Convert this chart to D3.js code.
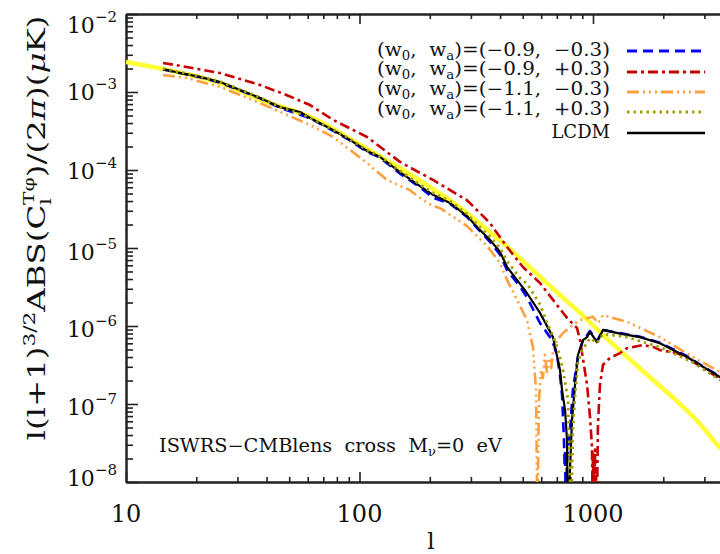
<!DOCTYPE html>
<html>
<head>
<meta charset="utf-8">
<script src="https://cdn.jsdelivr.net/npm/d3@7"></script>
<style>
body { margin: 0; background: #fff; }
svg { display: block; font-family: "DejaVu Serif", serif; }
</style>
</head>
<body>
<script>
// multipole l and |C_l| values
var yellowL = [10, 14.4, 25.3, 37.5, 61.4, 107.7, 149, 206.5, 244, 362, 487, 674, 880, 1103, 1590, 2359, 2873, 3500, 4000];
var yellowV = [2.43e-3, 1.97e-3, 1.30e-3, 8.0e-4, 4.8e-4, 1.86e-4, 1.06e-4, 5.7e-5, 4.1e-5, 1.6e-5, 7.4e-6, 3.0e-6, 1.47e-6, 7.7e-7, 2.85e-7, 1.0e-7, 5.55e-8, 2.73e-8, 1.91e-8];

var blackL = [14.4, 17, 20.7, 25.3, 30.8, 37.5, 45.6, 55.6, 61.4, 77, 91, 107.7, 122, 149, 181.5, 206.5, 244, 288.6, 328, 362, 400, 428.5, 487, 521, 593, 674, 722, 737, 759, 774, 780, 797, 813, 837, 862, 906, 943, 971, 1040, 1103, 1305, 1590, 1935, 2528, 2873, 3500, 4000];
var blackV = [1.97e-3, 1.75e-3, 1.56e-3, 1.34e-3, 1.06e-3, 8.4e-4, 6.4e-4, 5.55e-4, 4.65e-4, 3.26e-4, 2.43e-4, 1.75e-4, 1.48e-4, 9.4e-5, 6.2e-5, 4.8e-5, 3.78e-5, 2.57e-5, 1.70e-5, 1.27e-5, 8.9e-6, 5.7e-6, 3.46e-6, 2.65e-6, 1.47e-6, 7.2e-7, 2.73e-7, 1.51e-7, 8.4e-8, 3.46e-8, 3e-9, 1.43e-8, 6.2e-8, 1.75e-7, 4.25e-7, 6.6e-7, 7.2e-7, 8.4e-7, 6.2e-7, 8.9e-7, 8.0e-7, 7.2e-7, 6.0e-7, 4.0e-7, 3.16e-7, 2.22e-7, 1.75e-7];

var blueL = [14.4, 20.7, 25.3, 37.5, 45.6, 61.4, 77, 91, 107.7, 122, 149, 181.5, 206.5, 244, 288.6, 328, 362, 400, 428.5, 487, 521, 593, 668, 701, 722, 737, 751, 756, 760, 765, 770, 774, 797, 820, 862, 906, 943, 971, 1040, 1103, 1305, 1590, 1935, 2528, 2873, 3500, 4000];
var blueV = [1.95e-3, 1.55e-3, 1.32e-3, 8.3e-4, 6.3e-4, 4.6e-4, 3.2e-4, 2.4e-4, 1.70e-4, 1.45e-4, 9.0e-5, 6.0e-5, 4.4e-5, 3.7e-5, 2.5e-5, 1.65e-5, 1.2e-5, 8.2e-6, 5.2e-6, 3.2e-6, 2.35e-6, 1.09e-6, 6.6e-7, 4.25e-7, 2.35e-7, 1.3e-7, 3.5e-8, 1.6e-8, 2.5e-8, 3e-9, 9e-9, 2e-8, 4.65e-8, 1.51e-7, 4.0e-7, 6.6e-7, 7.6e-7, 8.6e-7, 6.4e-7, 8.9e-7, 8.1e-7, 7.3e-7, 6.1e-7, 4.1e-7, 3.2e-7, 2.25e-7, 1.78e-7];

var oliveL = [14.4, 20.7, 25.3, 37.5, 45.6, 61.4, 77, 91, 107.7, 122, 149, 181.5, 206.5, 244, 288.6, 328, 362, 400, 428.5, 487, 521, 593, 635, 674, 701, 722, 744, 782, 790, 805, 820, 837, 862, 897, 943, 971, 1040, 1103, 1305, 1399, 1935, 2680, 3500, 4000];
var oliveV = [2.0e-3, 1.58e-3, 1.36e-3, 8.5e-4, 6.5e-4, 4.7e-4, 3.3e-4, 2.5e-4, 1.8e-4, 1.5e-4, 9.8e-5, 6.5e-5, 5.1e-5, 4.0e-5, 2.75e-5, 1.85e-5, 1.4e-5, 1.0e-5, 6.8e-6, 4.1e-6, 3.5e-6, 1.9e-6, 1.1e-6, 7.5e-7, 5.5e-7, 4.0e-7, 2.73e-7, 1.13e-7, 3.46e-8, 3e-9, 4.65e-8, 1.23e-7, 3.4e-7, 4.9e-7, 6.05e-7, 7.0e-7, 6.05e-7, 7.9e-7, 7.4e-7, 7.2e-7, 5.35e-7, 3.4e-7, 2.03e-7, 1.6e-7];

var redL = [14.4, 18.2, 25.3, 37.5, 48.9, 61.4, 77, 107.7, 149, 206.5, 288.6, 362, 428.5, 501, 593, 674, 774, 854, 880, 915, 943, 971, 990, 995, 1000, 1005, 1010, 1015, 1020, 1025, 1030, 1038, 1050, 1071, 1103, 1182, 1305, 1399, 1637, 1823, 1935, 2291, 2528, 3500, 4000];
var redV = [2.36e-3, 2.09e-3, 1.75e-3, 1.23e-3, 9.1e-4, 6.8e-4, 4.4e-4, 2.65e-4, 1.27e-4, 7.45e-5, 4.1e-5, 2.09e-5, 1.03e-5, 5.7e-6, 3.56e-6, 2.16e-6, 1.27e-6, 9.4e-7, 6.6e-7, 3.16e-7, 1.75e-7, 6.8e-8, 2.8e-8, 8e-9, 2.4e-8, 4e-9, 1.8e-8, 9e-9, 2.6e-8, 5e-9, 1.5e-8, 3e-9, 5.4e-8, 1.75e-7, 3.16e-7, 3.9e-7, 4.5e-7, 5.2e-7, 5.7e-7, 5.35e-7, 4.9e-7, 4.5e-7, 3.9e-7, 2.1e-7, 1.7e-7];

var orangeL = [14.4, 18.2, 25.3, 37.5, 48.9, 61.4, 77, 107.7, 131, 164, 187, 206.5, 221, 288.6, 352, 400, 428.5, 473, 521, 553, 570, 578, 587, 599, 610, 622, 635, 648, 662, 674, 701, 744, 797, 880, 943, 1000, 1050, 1103, 1399, 1935, 2680, 3500, 4000];
var orangeV = [1.65e-3, 1.51e-3, 1.16e-3, 7.2e-4, 5.1e-4, 3.78e-4, 2.65e-4, 1.23e-4, 7.45e-5, 5.55e-5, 4.1e-5, 3.46e-5, 3.26e-5, 1.91e-5, 1.06e-5, 6.4e-6, 3.9e-6, 2.16e-6, 1.2e-6, 5.4e-7, 1.51e-7, 3e-9, 1.13e-7, 2.73e-7, 2.15e-7, 4.25e-7, 2.57e-7, 3.9e-7, 2.9e-7, 4.65e-7, 6.6e-7, 8.1e-7, 9.7e-7, 1.19e-6, 1.26e-6, 1.31e-6, 1.09e-6, 1.38e-6, 1.13e-6, 7.2e-7, 4.0e-7, 2.57e-7, 2.1e-7];

var legendVals = ["(\u22120.9,  \u22120.3)", "(\u22120.9,  +0.3)", "(\u22121.1,  \u22120.3)", "(\u22121.1,  +0.3)"];
var xMajor = [10, 100, 1000];
var yExp = [-8, -7, -6, -5, -4, -3, -2];

var W = 720, H = 554;
var plotLeft = 126, plotTop = 14, plotBottom = 482, decade = 233.5;

var x = d3.scaleLog().domain([10, 5000]).range([plotLeft, plotLeft + decade * Math.log10(500)]);
var y = d3.scaleLog().domain([1e-8, 1e-2]).range([plotBottom, plotTop]);

var svg = d3.select("body").append("svg")
        .attr("width", W)
        .attr("height", H);

svg.append("clipPath").attr("id", "plotclip").append("rect")
        .attr("x", plotLeft).attr("y", plotTop)
        .attr("width", x.range()[1] - plotLeft).attr("height", plotBottom - plotTop);

// minor tick values
var xMinor = [];
[10, 100, 1000].forEach(function(d){ for (var k = 2; k <= 9; k++) if (d*k <= 5000) xMinor.push(d*k); });
var yMinor = [];
yExp.slice(0, 6).forEach(function(e){ for (var k = 2; k <= 9; k++) yMinor.push(k * Math.pow(10, e)); });

function styleAxis(g){
  g.selectAll("path.domain").attr("stroke", "#222").attr("stroke-width", 2);
  g.selectAll(".tick line").attr("stroke", "#222").attr("stroke-width", 1.6);
  g.selectAll(".tick text").remove();
}

// axes, ticks pointing inward
svg.append("g").attr("transform", "translate(0," + plotBottom + ")")
   .call(d3.axisBottom(x).tickValues(xMinor).tickSize(-5).tickSizeOuter(0).tickFormat("")).call(styleAxis);
svg.append("g").attr("transform", "translate(0," + plotBottom + ")")
   .call(d3.axisBottom(x).tickValues(xMajor).tickSize(-10).tickSizeOuter(0).tickFormat("")).call(styleAxis);
svg.append("g").attr("transform", "translate(0," + plotTop + ")")
   .call(d3.axisTop(x).tickValues(xMinor).tickSize(-5).tickSizeOuter(0).tickFormat("")).call(styleAxis);
svg.append("g").attr("transform", "translate(0," + plotTop + ")")
   .call(d3.axisTop(x).tickValues(xMajor).tickSize(-10).tickSizeOuter(0).tickFormat("")).call(styleAxis);
svg.append("g").attr("transform", "translate(" + plotLeft + ",0)")
   .call(d3.axisLeft(y).tickValues(yMinor).tickSize(-7).tickSizeOuter(0).tickFormat("")).call(styleAxis);
svg.append("g").attr("transform", "translate(" + plotLeft + ",0)")
   .call(d3.axisLeft(y).tickValues(yExp.map(function(e){ return Math.pow(10, e); })).tickSize(-12).tickSizeOuter(0).tickFormat("")).call(styleAxis);

// tick labels
svg.selectAll("text.xl")
   .data(xMajor)
   .enter().append("text")
        .attr("class", "xl")
        .attr("x", function(d){ return x(d); })
        .attr("y", 522)
        .attr("text-anchor", "middle")
        .attr("font-size", 24)
        .attr("fill", "#111")
        .text(function(d){ return d; });

var yOff = {"-8": 4, "-7": 11, "-6": 11, "-5": 12, "-4": 9, "-3": 8, "-2": 19};
var yl = svg.selectAll("text.yl")
   .data(yExp)
   .enter().append("text")
        .attr("class", "yl")
        .attr("x", 117)
        .attr("y", function(e){ return y(Math.pow(10, e)) + yOff[e]; })
        .attr("text-anchor", "end")
        .attr("font-size", 22)
        .attr("fill", "#111");
yl.append("tspan").text("10");
yl.append("tspan").attr("dy", -11).attr("font-size", 15).text(function(e){ return "\u2212" + (-e); });

// series
var series = [
  {l: yellowL, v: yellowV, color: "#ffff33", width: 4.5, dash: null, curve: d3.curveMonotoneX},
  {l: blueL,   v: blueV,   color: "#0000ff", width: 2.6, dash: "10,6"},
  {l: redL,    v: redV,    color: "#c80000", width: 2.6, dash: "10,4,3,4"},
  {l: orangeL, v: orangeV, color: "#ffa040", width: 2.6, dash: "12,4,2,4,2,4,2,4"},
  {l: blackL,  v: blackV,  color: "#000000", width: 2.2, dash: null},
  {l: oliveL,  v: oliveV,  color: "#a0a000", width: 2.8, dash: "2.5,4"}
];

var plot = svg.append("g").attr("clip-path", "url(#plotclip)");
series.forEach(function(s){
  var pts = s.l.map(function(d, i){ return [d, s.v[i]]; });
  var line = d3.line()
        .x(function(d){ return x(d[0]); })
        .y(function(d){ return y(d[1]); })
        .curve(s.curve || d3.curveLinear);
  plot.append("path")
        .attr("d", line(pts))
        .attr("fill", "none")
        .attr("stroke", s.color)
        .attr("stroke-width", s.width)
        .attr("stroke-dasharray", s.dash)
        .attr("stroke-linejoin", "round");
});

// legend
var legendSeries = [series[1], series[2], series[3], series[5], series[4]];
var rowText = [56, 75, 95, 115, 138];
var rowLine = [51, 72, 92, 112, 133];
legendSeries.forEach(function(s, i){
  svg.append("line")
        .attr("x1", 627).attr("x2", 705)
        .attr("y1", rowLine[i]).attr("y2", rowLine[i])
        .attr("stroke", s.color)
        .attr("stroke-width", s === series[4] ? 2.6 : 2.8)
        .attr("stroke-dasharray", s.dash);
  var t = svg.append("text")
        .attr("x", 610).attr("y", rowText[i])
        .attr("text-anchor", "end")
        .attr("font-size", 18)
        .attr("fill", "#111")
        .style("white-space", "pre");
  if (i < 4) {
    t.append("tspan").text("(w");
    t.append("tspan").attr("dy", 4).attr("font-size", 12).text("0");
    t.append("tspan").attr("dy", -4).text(",  w");
    t.append("tspan").attr("dy", 4).attr("font-size", 12).text("a");
    t.append("tspan").attr("dy", -4).text(")=" + legendVals[i]);
    t.attr("textLength", 233).attr("lengthAdjust", "spacingAndGlyphs");
  } else {
    t.text("LCDM");
  }
});

// annotation
var ann = svg.append("text")
        .attr("x", 159).attr("y", 452)
        .attr("font-size", 18)
        .attr("fill", "#111")
        .style("white-space", "pre");
ann.append("tspan").text("ISWRS\u2212CMBlens  cross  M");
ann.append("tspan").attr("dy", 4).attr("font-size", 12).text("\u03bd");
ann.append("tspan").attr("dy", -4).text("=0  eV");
ann.attr("textLength", 343).attr("lengthAdjust", "spacingAndGlyphs");

// axis titles
svg.append("text")
        .attr("x", 431).attr("y", 549)
        .attr("text-anchor", "middle")
        .attr("font-size", 23)
        .attr("fill", "#111")
        .text("l");

var yt = svg.append("text")
        .attr("transform", "translate(45,228) rotate(-90)")
        .attr("text-anchor", "middle")
        .attr("font-size", 24)
        .attr("fill", "#111");
yt.append("tspan").text("l(l+1)");
yt.append("tspan").attr("dy", -10).attr("font-size", 16).text("3/2");
yt.append("tspan").attr("dy", 10).text("ABS(C");
yt.append("tspan").attr("dy", 6).attr("font-size", 15).text("l");
yt.append("tspan").attr("dx", -5).attr("dy", -17).attr("font-size", 15).text("T\u03c6");
yt.append("tspan").attr("dy", 11).text(")/(2");
yt.append("tspan").attr("font-style", "italic").text("\u03c0");
yt.append("tspan").text(")(");
yt.append("tspan").attr("font-style", "italic").text("\u03bc");
yt.append("tspan").text("K)");
yt.attr("textLength", 425).attr("lengthAdjust", "spacingAndGlyphs");
</script>
</body>
</html>
